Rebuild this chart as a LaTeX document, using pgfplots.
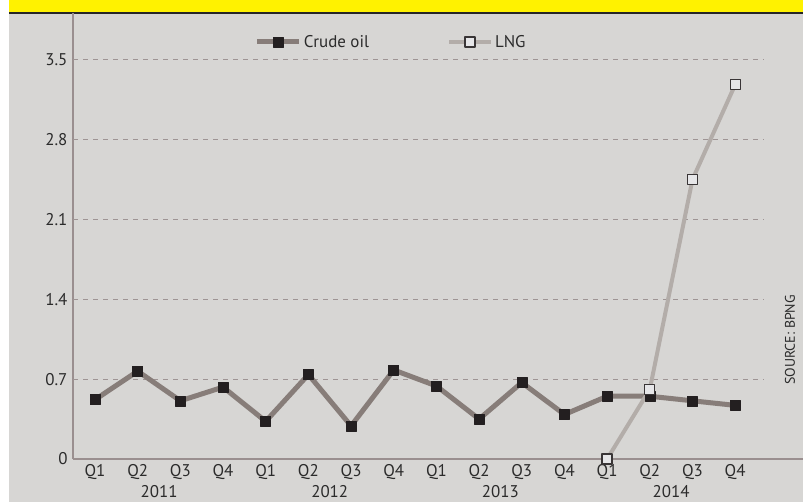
\documentclass[border=0pt]{standalone}
\usepackage{fontspec}
\setmainfont{PT Sans}
\usepackage{pgfplots}
\pgfplotsset{compat=1.18}
\definecolor{bg}{HTML}{D7D6D4}
\definecolor{yel}{HTML}{FFF200}
\definecolor{axiscol}{HTML}{9A8F8F}
\definecolor{gridcol}{HTML}{9E9494}
\definecolor{crude}{HTML}{877D79}
\definecolor{crudemark}{HTML}{231F20}
\definecolor{lng}{HTML}{B3ADA9}
\definecolor{lngmark}{HTML}{E6E6E8}
\definecolor{txt}{HTML}{2B2B2B}
\begin{document}
\begin{tikzpicture}
\useasboundingbox (0bp,0bp) rectangle (803bp,502bp);
\fill[white] (0bp,0bp) rectangle (803bp,502bp);
\fill[bg] (9bp,0bp) rectangle (803bp,489bp);
\fill[yel] (9bp,489bp) rectangle (803bp,502bp);
\draw[line width=1.5bp, black!85] (9bp,489bp) -- (803bp,489bp);
\begin{axis}[
  at={(73bp,43bp)}, anchor=south west,
  scale only axis, width=730bp, height=446bp,
  xmin=-0.516, xmax=16.59, ymin=0, ymax=3.909,
  clip=false,
  axis x line=bottom, axis y line=left,
  axis line style={draw=axiscol, line width=1.2bp, -},
  major tick length=0pt,
  xtick={0,...,15},
  xticklabels={Q1,Q2,Q3,Q4,Q1,Q2,Q3,Q4,Q1,Q2,Q3,Q4,Q1,Q2,Q3,Q4},
  ytick={0,0.7,1.4,2.1,2.8,3.5},
  yticklabels={0,0.7,1.4,2.1,2.8,3.5},
  tick label style={font=\fontsize{17}{17}\selectfont, text=txt},
  /pgf/number format/assume math mode=true,
  xticklabel style={yshift=-2bp},
  yticklabel style={xshift=-2bp},
  legend columns=2,
  legend style={at={(0.249,0.935)}, anchor=west, draw=none, fill=none,
    inner sep=0pt, font=\fontsize{17}{17}\selectfont, text=txt,
    nodes={inner sep=2bp},
    /tikz/every even column/.append style={column sep=76bp}},
  legend image code/.code={
    \draw[#1, mark repeat=2, mark phase=2] plot coordinates {(0bp,0bp) (21bp,0bp) (42bp,0bp)};
  },
]
\foreach \yy in {0.7,1.4,2.1,2.8,3.5} {
  \edef\tmp{\noexpand\draw[gridcol, line width=1bp, dash pattern=on 5bp off 5bp] (axis cs:-0.516,\yy) -- (axis cs:15.66,\yy);}
  \tmp
}
\addplot[color=crude, line width=5bp, line join=round, mark=square*,
  mark size=5bp, mark options={fill=crudemark, draw=crudemark, line width=0.5bp}]
  coordinates {(0,0.52) (1,0.77) (2,0.51) (3,0.63) (4,0.33) (5,0.74) (6,0.29) (7,0.78)
               (8,0.64) (9,0.35) (10,0.67) (11,0.39) (12,0.55) (13,0.55) (14,0.51) (15,0.47)};
\addlegendentry{Crude oil}
\addplot[color=lng, line width=4bp, line join=round, mark=square*,
  mark size=5bp, mark options={fill=lngmark, draw=crudemark!90, line width=1.3bp}]
  coordinates {(12,0) (13,0.61) (14,2.45) (15,3.28)};
\addlegendentry{LNG}
\node[font=\fontsize{17}{17}\selectfont, text=txt] at (axis cs:1.5,0) [yshift=-33bp] {2011};
\node[font=\fontsize{17}{17}\selectfont, text=txt] at (axis cs:5.5,0) [yshift=-33bp] {2012};
\node[font=\fontsize{17}{17}\selectfont, text=txt] at (axis cs:9.5,0) [yshift=-33bp] {2013};
\node[font=\fontsize{17}{17}\selectfont, text=txt] at (axis cs:13.5,0) [yshift=-33bp] {2014};
\end{axis}
\node[rotate=90, font=\fontsize{14}{14}\selectfont, text=txt] at (790bp,162bp) {SOURCE: BPNG};
\end{tikzpicture}
\end{document}
